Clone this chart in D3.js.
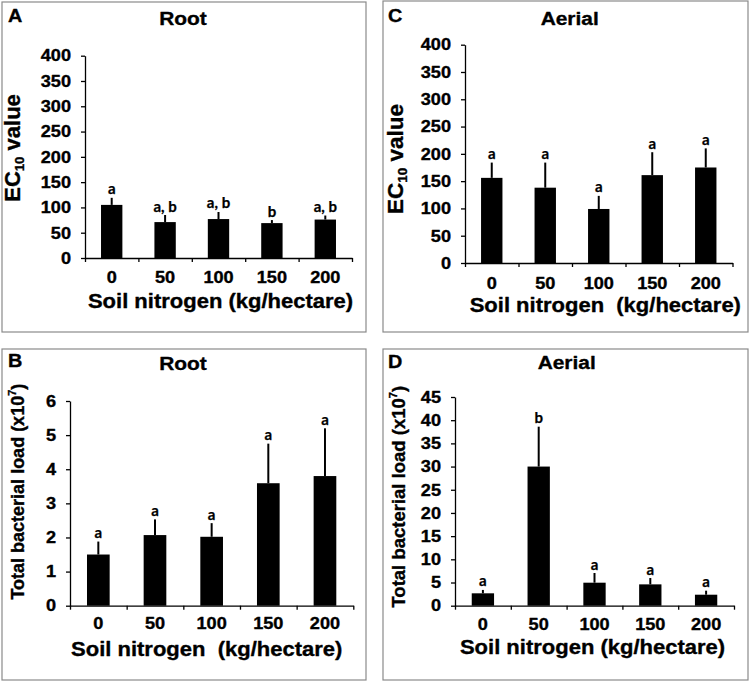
<!DOCTYPE html>
<html><head><meta charset="utf-8">
<script src="https://cdn.jsdelivr.net/npm/d3@7"></script>
<style>html,body{margin:0;padding:0;background:#fff;} svg{display:block;}</style>
</head><body>
<svg id="chart" width="750" height="682"></svg>
<script>
// ---- data ----
const categories = ["0", "50", "100", "150", "200"];

const ec10RootValues = [105, 71, 77, 69, 76];
const ec10RootErrors = [14, 14, 14, 6, 8];
const ec10RootLetters = ["a", "a, b", "a, b", "b", "a, b"];

const ec10AerialValues = [156, 138, 99, 161, 175];
const ec10AerialErrors = [28, 46, 24, 42, 35];
const ec10AerialLetters = ["a", "a", "a", "a", "a"];

const loadRootValues = [1.5, 2.07, 2.02, 3.59, 3.8];
const loadRootErrors = [0.38, 0.46, 0.4, 1.16, 1.4];
const loadRootLetters = ["a", "a", "a", "a", "a"];

const loadAerialValues = [2.67, 30.0, 4.96, 4.6, 2.37];
const loadAerialErrors = [0.73, 8.6, 2.09, 1.37, 0.87];
const loadAerialLetters = ["a", "b", "a", "a", "a"];

const ec10Ticks = [0, 50, 100, 150, 200, 250, 300, 350, 400];
const loadRootTicks = [0, 1, 2, 3, 4, 5, 6];
const loadAerialTicks = [0, 5, 10, 15, 20, 25, 30, 35, 40, 45];

// ---- drawing ----
const svg = d3.select("#chart");
const MAIN = "'Liberation Sans', Arial, Helvetica, sans-serif";
const ANNOT = "Lato, 'Liberation Sans', sans-serif";
const SX = 1.1;
const HEAVY = 0.35;

function stretch(sel, sx) {
  sel.each(function () {
    const t = d3.select(this);
    const x = +t.attr("x") || 0, y = +t.attr("y") || 0;
    t.attr("x", 0).attr("y", 0).attr("transform", `translate(${x},${y}) scale(${sx},1)`);
  });
}

function heavy(sel) {
  sel.attr("stroke", "#000").attr("stroke-width", HEAVY).attr("stroke-linejoin", "round");
}

function htext(g, x, y, str, size, anchor) {
  const t = g.append("text")
    .attr("transform", `translate(${x},${y}) scale(${SX},1)`)
    .attr("text-anchor", anchor)
    .attr("font-family", MAIN).attr("font-weight", "bold")
    .attr("font-size", size).attr("fill", "#000")
    .attr("xml:space", "preserve").style("white-space", "pre")
    .text(str);
  heavy(t);
  return t;
}

function drawPanel(p) {
  const g = svg.append("g");
  g.append("rect")
    .attr("x", p.box[0]).attr("y", p.box[1])
    .attr("width", p.box[2] - p.box[0]).attr("height", p.box[3] - p.box[1])
    .attr("fill", "none").attr("stroke", "#8a8a8a").attr("stroke-width", 1.2);

  const x = d3.scaleBand().domain(categories).range([p.x0, p.x1]).paddingInner(0.6).paddingOuter(0.3);
  const xb = d3.scaleLinear().domain([0, categories.length]).range([p.x0, p.x1]);
  const y = d3.scaleLinear().domain([0, d3.max(p.ticks)]).range([p.yBot, p.yTop]);
  const rows = p.values.map((v, i) => ({ c: categories[i], v, e: p.errors[i], l: p.letters[i] }));

  // error whiskers (upper only)
  g.selectAll(".err").data(rows).join("line")
    .attr("x1", d => x(d.c) + x.bandwidth() / 2).attr("x2", d => x(d.c) + x.bandwidth() / 2)
    .attr("y1", d => y(d.v)).attr("y2", d => y(d.v + d.e))
    .attr("stroke", "#000").attr("stroke-width", 2);

  // bars
  g.selectAll(".bar").data(rows).join("rect")
    .attr("x", d => x(d.c)).attr("y", d => y(d.v))
    .attr("width", x.bandwidth()).attr("height", d => y(0) - y(d.v))
    .attr("fill", "#000");

  // significance letters
  g.selectAll(".sig").data(rows).join("text")
    .attr("x", d => x(d.c) + x.bandwidth() / 2).attr("y", d => y(d.v + d.e) - 3.5)
    .attr("text-anchor", "middle")
    .attr("font-family", ANNOT).attr("font-weight", "bold").attr("font-size", 15)
    .attr("stroke", "#000").attr("stroke-width", 0.25)
    .text(d => d.l);

  // y axis
  const ya = g.append("g").attr("transform", `translate(${p.x0},0)`)
    .call(d3.axisLeft(y).tickValues(p.ticks).tickSizeInner(4).tickSizeOuter(0).tickPadding(10).tickFormat(d3.format("d")));
  ya.selectAll("path,line").attr("stroke", "#000").attr("stroke-width", 1.3);
  ya.selectAll("text").attr("font-family", MAIN).attr("font-weight", "bold").attr("font-size", p.tickFs).attr("fill", "#000");
  heavy(ya.selectAll("text"));
  stretch(ya.selectAll("text"), SX);

  // x axis line with boundary ticks
  const xa = g.append("g").attr("transform", `translate(0,${p.yBot})`)
    .call(d3.axisBottom(xb).tickValues(d3.range(categories.length + 1)).tickSizeInner(4).tickSizeOuter(0).tickFormat(""));
  xa.selectAll("path,line").attr("stroke", "#000").attr("stroke-width", 1.3);

  // x category labels
  const pad = p.xLabelBase - p.yBot - 0.71 * p.tickFs;
  const xl = g.append("g").attr("transform", `translate(0,${p.yBot})`)
    .call(d3.axisBottom(x).tickSize(0).tickPadding(pad));
  xl.select(".domain").remove();
  xl.selectAll("text").attr("font-family", MAIN).attr("font-weight", "bold").attr("font-size", p.tickFs).attr("fill", "#000");
  heavy(xl.selectAll("text"));
  stretch(xl.selectAll("text"), SX);

  // panel letter and title
  htext(g, p.letterPos[0], p.letterPos[1], p.letter, 18, "start");
  htext(g, p.titlePos[0], p.titlePos[1], p.title, 19, "middle");
  // x title
  htext(g, p.xTitlePos[0], p.xTitlePos[1], p.xTitle, 20, "middle");

  // y title
  const yt = g.append("text")
    .attr("transform", `translate(${p.yTitlePos[0]},${p.yTitlePos[1]}) rotate(-90)`)
    .attr("text-anchor", "middle")
    .attr("font-family", MAIN).attr("font-weight", "bold").attr("font-size", p.yTitleFs).attr("fill", "#000");
  heavy(yt);
  if (p.yTitleKind === "ec") {
    yt.append("tspan").text("EC");
    yt.append("tspan").attr("font-size", "0.6em").attr("dy", "0.3em").text("10");
    yt.append("tspan").attr("dy", "-0.18em").text(" value");
  } else {
    yt.append("tspan").text("Total bacterial load (x10");
    yt.append("tspan").attr("font-size", "0.6em").attr("dy", "-0.7em").text("7");
    yt.append("tspan").attr("dy", "0.42em").text(")");
  }
}

drawPanel({
  letter: "A", title: "Root", xTitle: "Soil nitrogen (kg/hectare)",
  values: ec10RootValues, errors: ec10RootErrors, letters: ec10RootLetters, ticks: ec10Ticks,
  box: [2, 2, 366, 332], x0: 85, x1: 352, yTop: 55.7, yBot: 258,
  tickFs: 16.5, xLabelBase: 283,
  letterPos: [8, 21.7], titlePos: [183, 25], xTitlePos: [220.5, 308],
  yTitleKind: "ec", yTitlePos: [20, 148], yTitleFs: 22
});

drawPanel({
  letter: "C", title: "Aerial", xTitle: "Soil nitrogen  (kg/hectare)",
  values: ec10AerialValues, errors: ec10AerialErrors, letters: ec10AerialLetters, ticks: ec10Ticks,
  box: [383, 1, 748, 332], x0: 465, x1: 732.5, yTop: 44.7, yBot: 263,
  tickFs: 16.5, xLabelBase: 288.5,
  letterPos: [388, 21.7], titlePos: [569.7, 25], xTitlePos: [605.3, 311.7],
  yTitleKind: "ec", yTitlePos: [403, 159], yTitleFs: 22.5
});

drawPanel({
  letter: "B", title: "Root", xTitle: "Soil nitrogen  (kg/hectare)",
  values: loadRootValues, errors: loadRootErrors, letters: loadRootLetters, ticks: loadRootTicks,
  box: [2, 349, 366, 680], x0: 70, x1: 353.3, yTop: 401, yBot: 605.7,
  tickFs: 16.5, xLabelBase: 629,
  letterPos: [8, 367.3], titlePos: [183, 370], xTitlePos: [206.7, 656],
  yTitleKind: "load", yTitlePos: [24, 491.7], yTitleFs: 18
});

drawPanel({
  letter: "D", title: "Aerial", xTitle: "Soil nitrogen (kg/hectare)",
  values: loadAerialValues, errors: loadAerialErrors, letters: loadAerialLetters, ticks: loadAerialTicks,
  box: [383, 349, 748, 680], x0: 455, x1: 734, yTop: 397, yBot: 605.7,
  tickFs: 16.5, xLabelBase: 630,
  letterPos: [388, 367.7], titlePos: [566.7, 369.3], xTitlePos: [592.5, 654],
  yTitleKind: "load", yTitlePos: [405, 496.7], yTitleFs: 18.5
});
</script>
</body></html>
